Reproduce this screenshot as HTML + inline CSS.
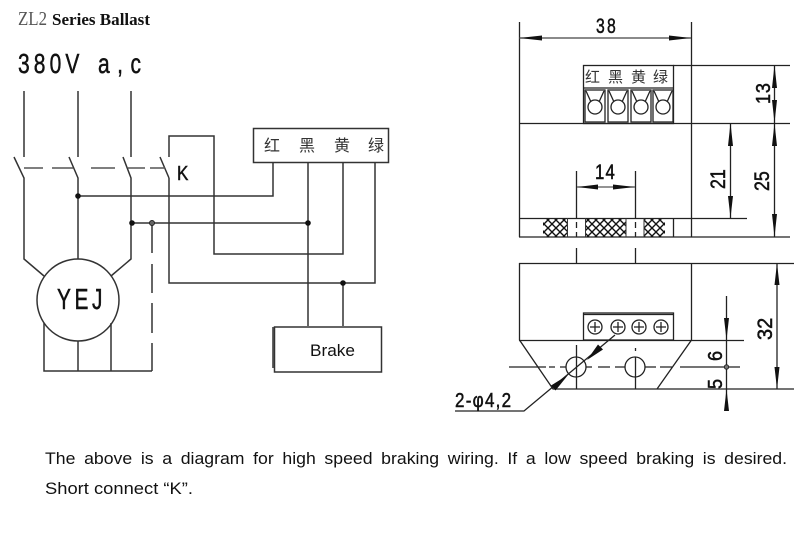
<!DOCTYPE html>
<html><head><meta charset="utf-8"><style>
html,body{margin:0;padding:0;background:#fff;width:800px;height:538px;overflow:hidden}
svg{display:block}
text{font-family:"Liberation Sans","Noto Sans CJK SC",sans-serif;fill:#111}
.cn{font-family:"Liberation Sans","Noto Sans CJK SC",sans-serif;fill:#333}
.s{font-family:"Liberation Serif",serif}
.b{stroke:#111;stroke-width:.5px}
</style></head><body>
<svg width="800" height="538" viewBox="0 0 800 538" xmlns="http://www.w3.org/2000/svg">
<defs>
<pattern id="h" width="8" height="8" patternUnits="userSpaceOnUse"><path d="M0 0L8 8M8 0L0 8" stroke="#111" stroke-width="1.400"/></pattern>
</defs>
<text class="s" x="18" y="25" font-size="20" style="fill:#555" textLength="29" lengthAdjust="spacingAndGlyphs">ZL2</text>
<text class="s" x="52" y="25" font-size="16.500" font-weight="bold" textLength="98" lengthAdjust="spacingAndGlyphs">Series Ballast</text>
<text class="b" transform="translate(18,73) scale(.75,1)" font-size="28" letter-spacing="5.500">380V</text>
<text class="b" transform="translate(98,73) scale(.75,1)" font-size="28" letter-spacing="10">a,c</text>

<g fill="none" stroke="#333" stroke-width="1.500">
<path d="M24 91V157M78 91V157M131 91V157"/>
<path d="M14 157L24 178V259L44 276M69 157L78 178V259M123 157L131 178V259L111 276M160 157L169 178"/>
<path d="M24 168H43M52 168H73M91 168H115M128 168H145M150 168H165" stroke="#555"/>
<circle cx="78" cy="300" r="41"/>
<path d="M44 323V371H152M78 341V371M111 323V371"/>
<path d="M152 224V253M152 264V293M152 303V333M152 343V371"/>
<path d="M78 196H273V162M131 223H308M308 162V326"/>
<path d="M169 157V136H214V254H343V162"/>
<path d="M169 178V283H375V162M343 283V326"/>
<rect x="253.500" y="128.500" width="135" height="34"/>
<rect x="274.500" y="327" width="107" height="45"/>
<path d="M273 327V368"/>
</g>
<circle cx="78" cy="196" r="2.800" fill="#111"/>
<circle cx="132" cy="223" r="2.800" fill="#111"/>
<circle cx="152" cy="223" r="2.500" fill="#666" stroke="#222"/>
<circle cx="308" cy="223" r="2.800" fill="#111"/>
<circle cx="343" cy="283" r="2.800" fill="#111"/>
<text class="b" transform="translate(177,180) scale(.85,1)" font-size="20">K</text>
<text class="b" transform="translate(57,309) scale(.72,1)" font-size="29" letter-spacing="5">YEJ</text>
<text class="cn" x="264" y="151" font-size="16">红</text>
<text class="cn" x="299" y="151" font-size="16">黑</text>
<text class="cn" x="334" y="151" font-size="16">黄</text>
<text class="cn" x="368" y="151" font-size="16">绿</text>
<text x="310" y="356" font-size="16.500" textLength="45" lengthAdjust="spacingAndGlyphs">Brake</text>

<!-- right drawing -->
<g fill="none" stroke="#222" stroke-width="1.300">
<path d="M519.500 22V237M691.500 22V237"/>
<path d="M519 38H691" stroke="#444"/>
<path d="M673 65.500H790M519 123.500H790M519 218.500H747M519 237H790" />
<rect x="583.500" y="65.500" width="90" height="58"/>
<path d="M583 88H673"/>
<rect x="585" y="90" width="20" height="32"/><rect x="608" y="90" width="20" height="32"/><rect x="631" y="90" width="20" height="32"/><rect x="653" y="90" width="20" height="32"/>
<path d="M586 91L591 102M604 91L599 102M609 91L614 102M627 91L622 102M632 91L637 102M650 91L645 102M654 91L659 102M672 91L667 102"/>
<circle cx="595" cy="107" r="7"/><circle cx="618" cy="107" r="7"/><circle cx="641" cy="107" r="7"/><circle cx="663" cy="107" r="7"/>
<path d="M576.500 171V218M576.500 222V228M576.500 232V237M576.500 248V263M635.500 171V218M635.500 222V228M635.500 232V237M635.500 248V263"/>
<path d="M577 187H635" stroke="#555"/>
<path d="M673.500 218V237"/>
<path d="M730.500 123V218M774.500 65V237"/>
<path d="M519 263.500H794M519.500 263V340L553 389H794M691.500 263V340L657 389"/>
<path d="M519 340.500H744"/>
<rect x="583.500" y="313" width="90" height="27"/>
<path d="M583 314.500H673"/>
<circle cx="595" cy="327" r="7"/><circle cx="618" cy="327" r="7"/><circle cx="639" cy="327" r="7"/><circle cx="661" cy="327" r="7"/>
<path d="M590 327H600M595 322V332M613 327H623M618 322V332M634 327H644M639 322V332M656 327H666M661 322V332"/>
<circle cx="576" cy="367" r="10"/><circle cx="635" cy="367" r="10"/>
<path d="M509 367H546M549 367H555M560 367H566M586 367H592M598 367H610M615 367H625M645 367H656M660 367H672M680 367H740"/>
<path d="M576.500 345V389M635.500 348V351M635.500 357V389"/>
<path d="M777 263V389M726.500 296V411"/>
<path d="M615 335L524 411H455"/>
</g>
<rect x="543" y="219" width="25" height="18" fill="url(#h)"/>
<rect x="586" y="219" width="40" height="18" fill="url(#h)"/>
<rect x="644" y="219" width="21" height="18" fill="url(#h)"/>
<path d="M567.500 218V237M585.500 218V237M626 218V237M644 218V237" stroke="#333" stroke-width="1"/>
<g fill="#111">
<path d="M519 38L542 35.500V40.500ZM691 38L669 35.500V40.500Z"/>
<path d="M577 187L598 184.500V189.500ZM635 187L613 184.500V189.500Z"/>
<path d="M774.500 65L772 88H777ZM774.500 123L772 100H777Z"/>
<path d="M730.500 123L728 146H733ZM730.500 218L728 196H733Z"/>
<path d="M774.500 123L772 146H777ZM774.500 237L772 214H777Z"/>
<path d="M777 263L774.500 285H779.500ZM777 389L774.500 367H779.500Z"/>
<path d="M726.500 340L724 318H729ZM726.500 389L724 411H729Z"/>
<path d="M568 375L551 385.500 555.500 390.500Z"/>
<path d="M587 360L598 344.500 603 349.500Z"/>
</g>
<circle cx="726.500" cy="367" r="2.200" fill="#777" stroke="#222"/>
<text class="b" transform="translate(596,33) scale(.75,1)" font-size="21" letter-spacing="3">38</text>
<text class="cn" x="585" y="82" font-size="15">红</text>
<text class="cn" x="608" y="82" font-size="15">黑</text>
<text class="cn" x="631" y="82" font-size="15">黄</text>
<text class="cn" x="653" y="82" font-size="15">绿</text>
<text class="b" transform="translate(595,179) scale(.8,1)" font-size="21" letter-spacing="1.500">14</text>
<text class="b" transform="translate(770,104) rotate(-90) scale(.9,1)" font-size="20" letter-spacing="1">13</text>
<text class="b" transform="translate(725,189) rotate(-90) scale(.85,1)" font-size="21">21</text>
<text class="b" transform="translate(769,191) rotate(-90) scale(.85,1)" font-size="21">25</text>
<text class="b" transform="translate(772,340) rotate(-90) scale(.95,1)" font-size="21">32</text>
<text class="b" transform="translate(722,361) rotate(-90) scale(.9,1)" font-size="20">6</text>
<text class="b" transform="translate(722,389) rotate(-90) scale(.9,1)" font-size="20">5</text>
<text class="b" transform="translate(455,407) scale(.85,1)" font-size="20" letter-spacing="1.500">2-φ4,2</text>

<text x="45" y="464" font-size="16.500" word-spacing="3.500" fill="#111" textLength="742" lengthAdjust="spacingAndGlyphs">The above is a diagram for high speed braking wiring. If a low speed braking is desired.</text>
<text x="45" y="494" font-size="16.500" textLength="148" lengthAdjust="spacingAndGlyphs">Short connect “K”.</text>
</svg>
</body></html>
